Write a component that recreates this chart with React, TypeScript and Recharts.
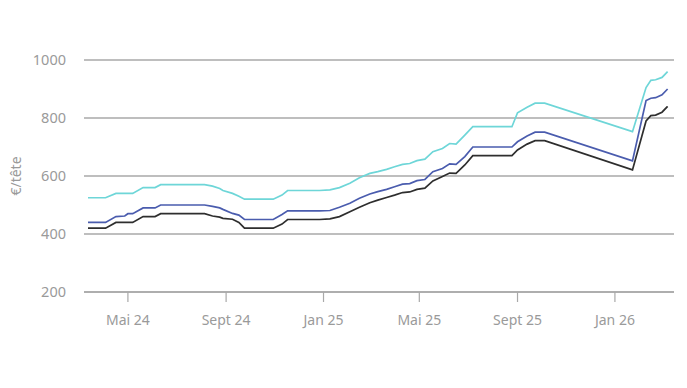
import React from "react";
import { LineChart, Line, XAxis, YAxis, CartesianGrid } from "recharts";

const dates = [
  "2024-03-12","2024-04-03","2024-04-16","2024-04-27","2024-05-01","2024-05-07","2024-05-20","2024-06-04","2024-06-11","2024-08-05",
  "2024-08-15","2024-08-24","2024-08-28","2024-09-09","2024-09-17","2024-09-24","2024-10-30","2024-11-10","2024-11-17","2024-12-27",
  "2025-01-09","2025-01-21","2025-02-03","2025-02-15","2025-02-28","2025-03-10","2025-03-21","2025-03-31","2025-04-10","2025-04-19",
  "2025-04-28","2025-05-08","2025-05-18","2025-05-30","2025-06-08","2025-06-16","2025-06-27","2025-07-07","2025-08-25","2025-09-01",
  "2025-09-13","2025-09-23","2025-10-05","2026-01-23","2026-02-09","2026-02-15","2026-02-21","2026-03-01","2026-03-08",
];

const seriesHigh = [
  525,525,540,540,540,540,560,560,570,570,
  565,557,550,540,530,520,520,534,550,550,
  552,560,575,594,609,615,623,632,640,643,
  653,658,684,695,712,710,741,770,770,818,
  837,851,851,753,905,930,932,940,960,
];

const seriesMid = [
  440,440,460,462,470,470,490,490,500,500,
  495,490,485,471,465,450,450,467,480,480,
  481,492,506,523,538,546,554,563,572,574,
  584,588,615,626,642,640,667,700,700,718,
  738,751,751,652,860,868,870,880,900,
];

const seriesLow = [
  420,420,440,440,440,440,460,460,470,470,
  462,458,454,451,440,420,420,434,450,450,
  452,460,477,492,508,517,526,534,543,545,
  554,558,583,598,610,609,638,670,670,690,
  710,722,722,621,790,808,810,820,840,
];

const tickDates = ["2024-05-01","2024-09-01","2025-01-01","2025-05-01","2025-09-01","2026-01-01"];
const tickLabels = ["Mai 24","Sept 24","Jan 25","Mai 25","Sept 25","Jan 26"];
const yTicks = [200, 400, 600, 800, 1000];
const domainStart = "2024-03-07";
const domainEnd = "2026-03-16";
const yLabel = "€/tête";

const data = dates.map((d, i) => ({
  t: Date.parse(d),
  high: seriesHigh[i],
  mid: seriesMid[i],
  low: seriesLow[i],
}));

const tickValues = tickDates.map((d) => Date.parse(d));
const labelFor = (v: number) => {
  const i = tickValues.indexOf(v);
  return i >= 0 ? tickLabels[i] : "";
};

const FONT = "'Noto Sans', sans-serif";
const GRAY = "#a9a9a9";
const TEXT = "#9a9a9a";

export default function App() {
  return (
    <div style={{ position: "absolute", left: 0, top: 0, background: "#fff" }}>
      <LineChart
        width={687}
        height={388}
        data={data}
        margin={{ top: 60, right: 13, bottom: 66, left: 14 }}
        style={{ fontFamily: FONT }}
      >
        <CartesianGrid vertical={false} stroke={GRAY} strokeWidth={1.5} />
        <XAxis
          dataKey="t"
          type="number"
          scale="linear"
          domain={[Date.parse(domainStart), Date.parse(domainEnd)]}
          ticks={tickValues}
          tickFormatter={labelFor}
          tickSize={10}
          tickMargin={13}
          height={30}
          axisLine={{ stroke: GRAY, strokeWidth: 1.5 }}
          tickLine={{ stroke: GRAY, strokeWidth: 1.2 }}
          tick={{ fill: TEXT, fontSize: 14, fontFamily: FONT }}
          allowDataOverflow
        />
        <YAxis
          type="number"
          domain={[200, 1000]}
          ticks={yTicks}
          width={70}
          axisLine={false}
          tickLine={false}
          tickMargin={12}
          tick={{ fill: TEXT, fontSize: 14.5, fontFamily: FONT }}
          label={{
            value: yLabel,
            angle: -90,
            position: "insideLeft",
            offset: 2,
            style: { textAnchor: "middle", fill: TEXT, fontSize: 14, fontFamily: FONT },
          }}
        />
        <Line type="linear" dataKey="high" stroke="#6ed6d8" strokeWidth={1.7} dot={false} isAnimationActive={false} />
        <Line type="linear" dataKey="mid" stroke="#4a5cae" strokeWidth={1.7} dot={false} isAnimationActive={false} />
        <Line type="linear" dataKey="low" stroke="#2e2e2e" strokeWidth={1.7} dot={false} isAnimationActive={false} />
      </LineChart>
    </div>
  );
}
